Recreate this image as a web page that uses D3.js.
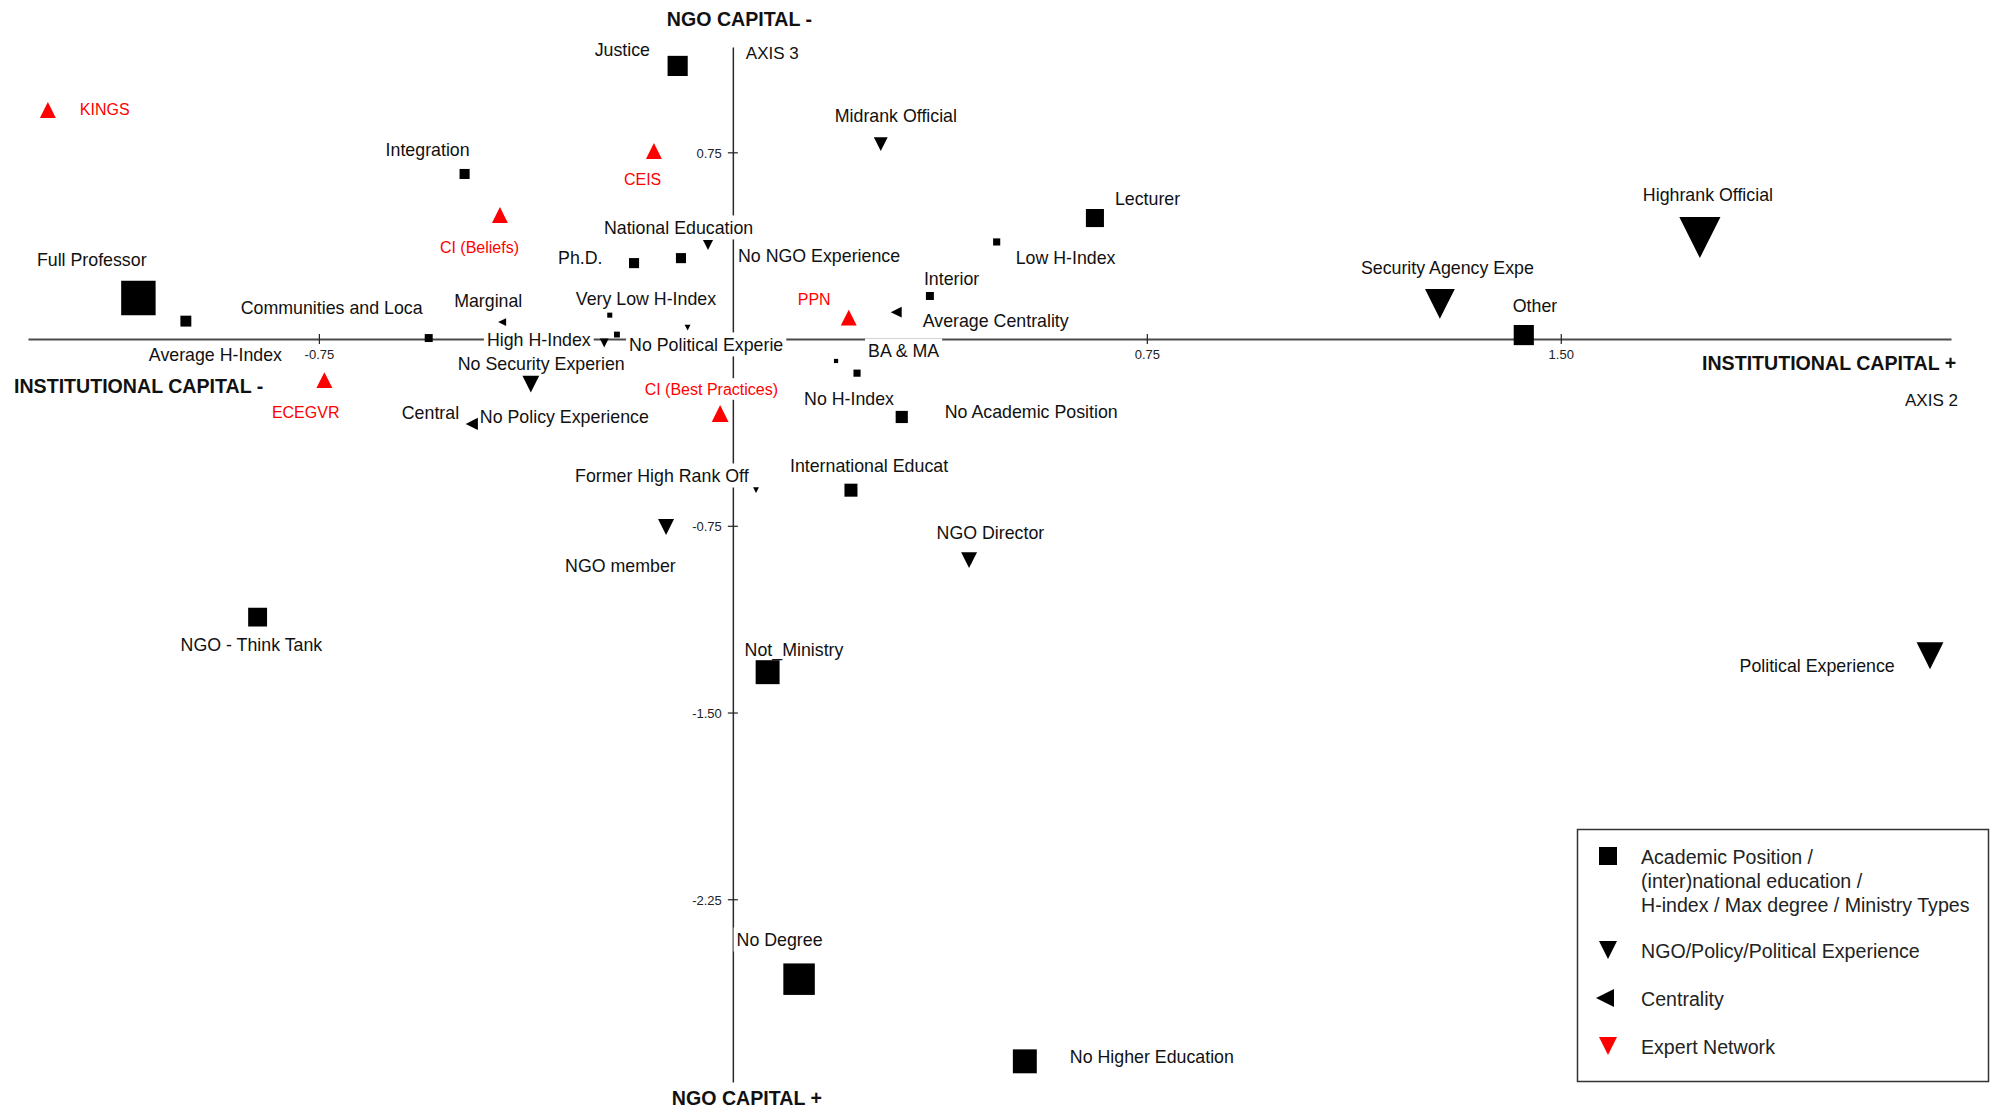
<!DOCTYPE html>
<html>
<head>
<meta charset="utf-8">
<script src="https://cdn.jsdelivr.net/npm/d3@7"></script>
<style>
  html, body { margin: 0; padding: 0; background: #ffffff; }
  svg { display: block; }
</style>
</head>
<body>
<svg id="chart" width="1990" height="1109"></svg>
<script>
// Category coordinates: [label, axis 2 (institutional capital), axis 3 (NGO capital), relative mass]
const academic = [
  ["Justice", -0.100, 1.097, 0.48],
  ["Integration", -0.486, 0.663, 0.24],
  ["Ph.D.", -0.179, 0.305, 0.24],
  ["National Education", -0.094, 0.325, 0.24],
  ["Full Professor", -1.077, 0.165, 0.82],
  ["Average H-Index", -0.991, 0.072, 0.26],
  ["Communities and Loca", -0.551, 0.004, 0.19],
  ["Very Low H-Index", -0.223, 0.096, 0.12],
  ["High H-Index", -0.210, 0.018, 0.14],
  ["BA & MA", 0.225, -0.137, 0.17],
  ["No H-Index", 0.187, -0.088, 0.10],
  ["No Academic Position", 0.306, -0.313, 0.29],
  ["International Educat", 0.214, -0.607, 0.31],
  ["Interior", 0.357, 0.173, 0.19],
  ["Low H-Index", 0.478, 0.390, 0.17],
  ["Lecturer", 0.656, 0.486, 0.43],
  ["Other", 1.433, 0.016, 0.48],
  ["Not_Ministry", 0.063, -1.338, 0.57],
  ["No Degree", 0.120, -2.571, 0.75],
  ["No Higher Education", 0.529, -2.901, 0.57],
  ["NGO - Think Tank", -0.861, -1.117, 0.45]
];

const experience = [
  ["No NGO Experience", -0.045, 0.378, 0.24],
  ["No Political Experie", -0.082, 0.046, 0.14],
  ["No Security Experien", -0.233, -0.016, 0.21],
  ["No Policy Experience", -0.366, -0.181, 0.40],
  ["Former High Rank Off", 0.042, -0.607, 0.14],
  ["NGO member", -0.121, -0.755, 0.38],
  ["NGO Director", 0.428, -0.888, 0.38],
  ["Midrank Official", 0.268, 0.783, 0.33],
  ["Highrank Official", 1.752, 0.408, 0.98],
  ["Security Agency Expe", 1.281, 0.141, 0.71],
  ["Political Experience", 2.169, -1.272, 0.64]
];

const centrality = [
  ["Marginal", -0.418, 0.068, 0.19],
  ["Central", -0.473, -0.341, 0.29],
  ["Average Centrality", 0.296, 0.108, 0.26]
];

const expertNetwork = [
  ["KINGS", -1.241, 0.920, 0.38],
  ["CEIS", -0.143, 0.755, 0.38],
  ["CI (Beliefs)", -0.422, 0.498, 0.38],
  ["PPN", 0.210, 0.086, 0.38],
  ["ECEGVR", -0.740, -0.165, 0.38],
  ["CI (Best Practices)", -0.023, -0.299, 0.40]
];

const xTickValues = [-0.75, 0.75, 1.50];
const yTickValues = [0.75, -0.75, -1.50, -2.25];

const legendEntries = [
  ["square", "#000000", ["Academic Position /", "(inter)national education /", "H-index / Max degree / Ministry Types"]],
  ["down", "#000000", ["NGO/Policy/Political Experience"]],
  ["left", "#000000", ["Centrality"]],
  ["down", "#ff0000", ["Expert Network"]]
];

// Label placement relative to each marker (pixels: left edge, baseline)
const labelOffset = {
  "Justice": [-83, -10], "Integration": [-79, -18], "Ph.D.": [-76, 1],
  "National Education": [-77, -24], "Full Professor": [-101.5, -32],
  "Average H-Index": [-37, 40], "Communities and Loca": [-188, -24],
  "Very Low H-Index": [-34, -10], "High H-Index": [-130, 11.5],
  "BA & MA": [11, -16], "No H-Index": [-32, 44], "No Academic Position": [43, 1],
  "International Educat": [-61, -18], "Interior": [-6, -11], "Low H-Index": [19, 22],
  "Lecturer": [20, -13], "Other": [-11, -23], "Not_Ministry": [-23, -16],
  "No Degree": [-62.5, -33], "No Higher Education": [45, 2], "NGO - Think Tank": [-77, 34],
  "No NGO Experience": [30, 17], "No Political Experie": [-58.5, 23.5],
  "No Security Experien": [-146.5, 27], "No Policy Experience": [-51, 39],
  "Former High Rank Off": [-181, -8], "NGO member": [-101, 45], "NGO Director": [-32.5, -21],
  "Midrank Official": [-46, -22], "Highrank Official": [-57, -36.5],
  "Security Agency Expe": [-79, -30], "Political Experience": [-190.5, 16.5],
  "Marginal": [-48, -15], "Central": [-70, -5], "Average Centrality": [26.5, 15],
  "KINGS": [32, 5], "CEIS": [-30, 34], "CI (Beliefs)": [-60, 38], "PPN": [-51, -12.5],
  "ECEGVR": [-52.5, 38], "CI (Best Practices)": [-75.5, -18.5]
};

const FONT = "'Liberation Sans', Arial, Helvetica, sans-serif";

const svg = d3.select("#chart").style("font-family", FONT);
svg.append("rect").attr("width", 1990).attr("height", 1109).attr("fill", "#ffffff");

const x = d3.scaleLinear().domain([-1.277, 2.207]).range([28, 1951]);
const y = d3.scaleLinear().domain([1.173, -2.984]).range([47, 1082]);
const side = d3.scaleLinear().domain([0, 1]).range([0, 42]);
const fmt = v => v.toFixed(2);

// Marker outlines centred on (cx, cy) with side s
function shapePath(shape, cx, cy, s) {
  const h = s / 2;
  const p = d3.path();
  if (shape === "square") {
    p.rect(cx - h, cy - h, s, s);
  } else if (shape === "down") {
    p.moveTo(cx - h, cy - h); p.lineTo(cx + h, cy - h); p.lineTo(cx, cy + h); p.closePath();
  } else if (shape === "up") {
    p.moveTo(cx - h, cy + h); p.lineTo(cx + h, cy + h); p.lineTo(cx, cy - h); p.closePath();
  } else if (shape === "left") {
    p.moveTo(cx + h, cy - h); p.lineTo(cx + h, cy + h); p.lineTo(cx - h, cy); p.closePath();
  }
  return p.toString();
}

// Axes through the origin
const xAxis = svg.append("g")
  .attr("transform", `translate(0,${y(0)})`)
  .call(d3.axisBottom(x).tickValues(xTickValues).tickFormat(fmt).tickSizeInner(5).tickSizeOuter(0).tickPadding(6));
xAxis.select(".domain").attr("stroke", "#4a4a4a").attr("stroke-width", 2);
xAxis.selectAll(".tick line").attr("y1", -5).attr("stroke", "#222").attr("stroke-width", 1.2);
xAxis.selectAll(".tick text").attr("fill", "#222").style("font-size", "13px").style("font-family", FONT);

const yAxis = svg.append("g")
  .attr("transform", `translate(${x(0)},0)`)
  .call(d3.axisLeft(y).tickValues(yTickValues).tickFormat(fmt).tickSizeInner(5).tickSizeOuter(0).tickPadding(6));
yAxis.select(".domain").attr("stroke", "#2a2a2a").attr("stroke-width", 1.5);
yAxis.selectAll(".tick line").attr("x1", 5).attr("stroke", "#222").attr("stroke-width", 1.2);
yAxis.selectAll(".tick text").attr("fill", "#222").attr("dy", "0.4em").style("font-size", "13px").style("font-family", FONT);

// Axis titles
const titles = [
  ["NGO CAPITAL -", x(0) - 66, 26, "bold", 19.6],
  ["NGO CAPITAL +", x(0) - 61, 1105, "bold", 19.6],
  ["INSTITUTIONAL CAPITAL -", 14, 393, "bold", 19.6],
  ["INSTITUTIONAL CAPITAL +", 1702, 370, "bold", 19.6],
  ["AXIS 3", x(0) + 13, 59, "normal", 17],
  ["AXIS 2", 1905, 406, "normal", 17]
];
svg.append("g").selectAll("text").data(titles).join("text")
  .attr("x", d => d[1]).attr("y", d => d[2])
  .attr("font-weight", d => d[3]).style("font-size", d => d[4] + "px")
  .attr("fill", "#111").text(d => d[0]);

// Point layers
const groups = [
  { rows: academic, shape: "square", color: "#000000", text: "#111111", size: 17.8 },
  { rows: experience, shape: "down", color: "#000000", text: "#111111", size: 17.8 },
  { rows: centrality, shape: "left", color: "#000000", text: "#111111", size: 17.8 },
  { rows: expertNetwork, shape: "up", color: "#ff0000", text: "#ff0000", size: 16 }
];

const bgLayer = svg.append("g");
const markLayer = svg.append("g");
const textLayer = svg.append("g");

groups.forEach(g => {
  markLayer.append("g").selectAll("path").data(g.rows).join("path")
    .attr("d", d => shapePath(g.shape, x(d[1]), y(d[2]), side(d[3])))
    .attr("fill", g.color);

  const labels = textLayer.append("g").selectAll("text").data(g.rows).join("text")
    .attr("x", d => x(d[1]) + labelOffset[d[0]][0])
    .attr("y", d => y(d[2]) + labelOffset[d[0]][1])
    .style("font-size", g.size + "px")
    .attr("fill", g.text)
    .text(d => d[0]);

  // White boxes behind labels break the axis lines where text crosses them
  labels.each(function (d) {
    const w = this.getComputedTextLength();
    const lx = x(d[1]) + labelOffset[d[0]][0];
    const ly = y(d[2]) + labelOffset[d[0]][1];
    bgLayer.append("rect")
      .attr("x", lx - 3).attr("y", ly - 1.05 * g.size)
      .attr("width", w + 6).attr("height", 1.35 * g.size)
      .attr("fill", "#ffffff");
  });
});

// Legend
const legend = svg.append("g");
legend.append("rect")
  .attr("x", 1577.5).attr("y", 829.5).attr("width", 411).attr("height", 252)
  .attr("fill", "#ffffff").attr("stroke", "#333").attr("stroke-width", 1.5);
const legendBaselines = [864, 958, 1006, 1054];
legendEntries.forEach((e, i) => {
  const base = legendBaselines[i];
  legend.append("path")
    .attr("d", shapePath(e[0], e[0] === "left" ? 1605 : 1608, base - 8, 18))
    .attr("fill", e[1]);
  e[2].forEach((line, j) => {
    legend.append("text")
      .attr("x", 1641).attr("y", base + j * 24)
      .style("font-size", "19.6px").attr("fill", "#222")
      .text(line);
  });
});
</script>
</body>
</html>
